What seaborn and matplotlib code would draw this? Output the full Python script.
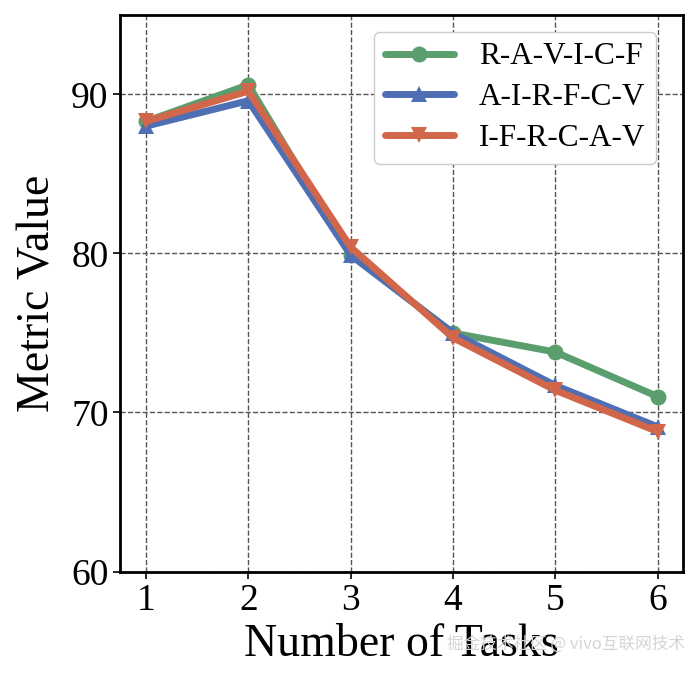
import pandas as pd
import matplotlib
matplotlib.use("Agg")
import matplotlib.pyplot as plt
import seaborn as sns

# data
tasks = [1, 2, 3, 4, 5, 6]
ravicf = [88.3, 90.6, 79.9, 75.0, 73.8, 71.0]
airfcv = [88.0, 89.6, 79.9, 75.0, 71.7, 69.1]
ifrcav = [88.3, 90.2, 80.4, 74.7, 71.4, 68.8]
series_names = ["R-A-V-I-C-F", "A-I-R-F-C-V", "I-F-R-C-A-V"]
yticks = [60, 70, 80, 90]

df = pd.DataFrame({
    "tasks": tasks * 3,
    "value": ravicf + airfcv + ifrcav,
    "order": [n for n in series_names for _ in tasks],
})

sns.set_style("whitegrid")
plt.rcParams["font.family"] = ["Liberation Serif", "DejaVu Serif"]
plt.rcParams["text.color"] = "black"
plt.rcParams["axes.labelcolor"] = "black"

fig, ax = plt.subplots(figsize=(6.88, 6.74), dpi=100)
palette = {"R-A-V-I-C-F": "#5B9E6E", "A-I-R-F-C-V": "#4E6FB3", "I-F-R-C-A-V": "#D2664A"}
markers = {"R-A-V-I-C-F": "o", "A-I-R-F-C-V": "^", "I-F-R-C-A-V": "v"}
sns.lineplot(data=df, x="tasks", y="value", hue="order", style="order",
             markers=markers, dashes=False, palette=palette,
             linewidth=5, markersize=11.5, markeredgewidth=0, ax=ax)

ax.set_xlim(0.75, 6.25)
ax.set_ylim(60, 95)
ax.set_xticks(tasks)
ax.set_yticks(yticks)
ax.tick_params(labelsize=27, length=5, width=1.2, direction="out", colors="black", bottom=True, left=True)
ax.set_xlabel("Number of Tasks", fontsize=33, labelpad=4)
ax.set_ylabel("Metric Value", fontsize=33, labelpad=8)
ax.grid(True, linestyle="--", color="#555555", linewidth=1.0)
for s in ax.spines.values():
    s.set_color("black")
    s.set_linewidth(2)

leg = ax.legend(loc="upper right", bbox_to_anchor=(0.952, 0.97), borderaxespad=0,
                fontsize=22.5, handlelength=2.2, borderpad=0.35,
                labelspacing=0.38, handletextpad=0.8, framealpha=1)
leg.set_title(None)
for line in leg.get_lines():
    line.set_linewidth(5)

fig.text(0.995, 0.045, "掘金技术社区 @ vivo互联网技术", ha="right", va="center",
         fontsize=12, color="#d5d5d5", family=["Noto Sans CJK SC", "DejaVu Sans"])

plt.subplots_adjust(left=0.175, right=0.993, top=0.978, bottom=0.152)
plt.savefig("out.png", dpi=100)
